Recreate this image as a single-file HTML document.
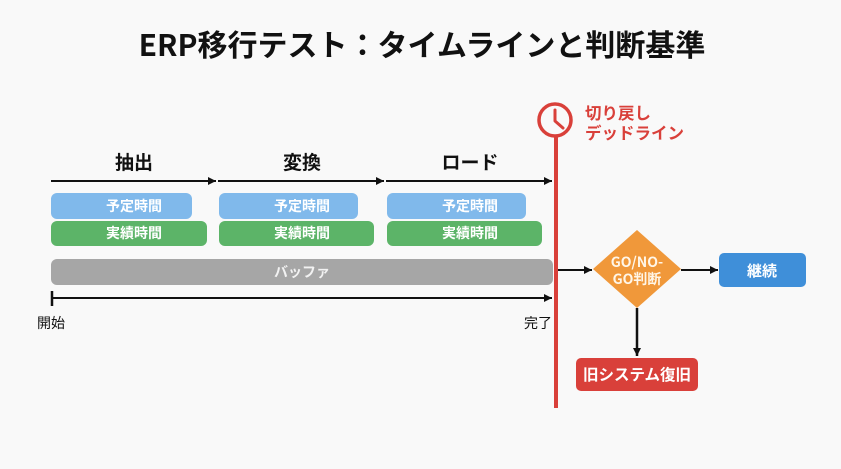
<!DOCTYPE html>
<html><head><meta charset="utf-8">
<style>
html,body{margin:0;padding:0;background:#f9f9f9;}
svg{display:block;}
text{font-family:"Liberation Sans","Noto Sans CJK JP",sans-serif;}
.j{font-family:"Noto Sans CJK JP","Liberation Sans",sans-serif;}
</style></head>
<body>
<svg width="841" height="469" viewBox="0 0 841 469" xmlns="http://www.w3.org/2000/svg">
<defs>
<marker id="ah" markerWidth="10" markerHeight="10" refX="8" refY="4" orient="auto" markerUnits="userSpaceOnUse">
<path d="M0,0 L8,4 L0,8 z" fill="#111"/>
</marker>
</defs>
<rect width="841" height="469" fill="#f9f9f9"/>

<!-- Title -->
<text class="j" x="422" y="56" text-anchor="middle" font-size="30" font-weight="bold" fill="#111">ERP移行テスト：タイムラインと判断基準</text>

<!-- Phase labels -->
<text class="j" x="134" y="169" text-anchor="middle" font-size="19" font-weight="bold" fill="#111">抽出</text>
<text class="j" x="302" y="169" text-anchor="middle" font-size="19" font-weight="bold" fill="#111">変換</text>
<text class="j" x="470" y="169" text-anchor="middle" font-size="19" font-weight="bold" fill="#111">ロード</text>

<!-- phase arrows -->
<line x1="51" y1="181" x2="216" y2="181" stroke="#111" stroke-width="2" marker-end="url(#ah)"/>
<line x1="218" y1="181" x2="384" y2="181" stroke="#111" stroke-width="2" marker-end="url(#ah)"/>
<line x1="386" y1="181" x2="552" y2="181" stroke="#111" stroke-width="2" marker-end="url(#ah)"/>

<!-- blue boxes -->
<rect x="51" y="193" width="141" height="26" rx="6" fill="#80b9eb"/>
<rect x="219" y="193" width="139" height="26" rx="6" fill="#80b9eb"/>
<rect x="387" y="193" width="139" height="26" rx="6" fill="#80b9eb"/>
<!-- green boxes -->
<rect x="51" y="221" width="156" height="25" rx="6" fill="#5cb468"/>
<rect x="219" y="221" width="155" height="25" rx="6" fill="#5cb468"/>
<rect x="387" y="221" width="155" height="25" rx="6" fill="#5cb468"/>

<g class="j" font-size="14" font-weight="bold" fill="#fff" text-anchor="middle">
<text x="134" y="211">予定時間</text>
<text x="302" y="211">予定時間</text>
<text x="470" y="211">予定時間</text>
<text x="134" y="238">実績時間</text>
<text x="302" y="238">実績時間</text>
<text x="470" y="238">実績時間</text>
</g>

<!-- buffer bar -->
<rect x="51" y="259" width="502" height="26" rx="6" fill="#a6a6a6"/>
<text class="j" x="302" y="277" text-anchor="middle" font-size="14" font-weight="bold" fill="#f2f2f2">バッファ</text>

<!-- bottom timeline -->
<line x1="52" y1="291" x2="52" y2="306" stroke="#111" stroke-width="2.5"/>
<line x1="52" y1="298" x2="552" y2="298" stroke="#111" stroke-width="2" marker-end="url(#ah)"/>
<text class="j" x="37" y="328" font-size="14" fill="#111">開始</text>
<text class="j" x="524" y="328" font-size="14" fill="#111">完了</text>

<!-- red deadline line -->
<line x1="556" y1="134" x2="556" y2="408" stroke="#d9403a" stroke-width="4"/>
<circle cx="555" cy="120" r="16" fill="#f9f9f9" stroke="#d9403a" stroke-width="3.5"/>
<polyline points="555,110 555,121 563,128" fill="none" stroke="#d9403a" stroke-width="3" stroke-linecap="round" stroke-linejoin="round"/>
<text class="j" x="585" y="119" font-size="16.5" font-weight="bold" fill="#d9403a">切り戻し</text>
<text class="j" x="585" y="139" font-size="16.5" font-weight="bold" fill="#d9403a">デッドライン</text>

<!-- arrow to diamond -->
<line x1="558" y1="270" x2="592" y2="270" stroke="#111" stroke-width="2" marker-end="url(#ah)"/>

<!-- diamond -->
<polygon points="637,230 681,269 637,308 593,269" fill="#f0983a"/>
<text class="j" x="637" y="267" text-anchor="middle" font-size="14" font-weight="bold" fill="#fff6e8">GO/NO-</text>
<text class="j" x="637" y="284" text-anchor="middle" font-size="14" font-weight="bold" fill="#fff6e8">GO判断</text>

<!-- arrow to 継続 -->
<line x1="681" y1="270" x2="718" y2="270" stroke="#111" stroke-width="2" marker-end="url(#ah)"/>
<rect x="719" y="253" width="87" height="34" rx="5" fill="#3f8fd9"/>
<text class="j" x="762" y="276" text-anchor="middle" font-size="15" font-weight="bold" fill="#fff">継続</text>

<!-- down arrow -->
<line x1="637" y1="308" x2="637" y2="356" stroke="#111" stroke-width="2.5" marker-end="url(#ah)"/>
<rect x="576" y="358" width="122" height="33" rx="5" fill="#d9403a"/>
<text class="j" x="637" y="380" text-anchor="middle" font-size="15.5" font-weight="bold" fill="#fff">旧システム復旧</text>
</svg>
</body></html>
